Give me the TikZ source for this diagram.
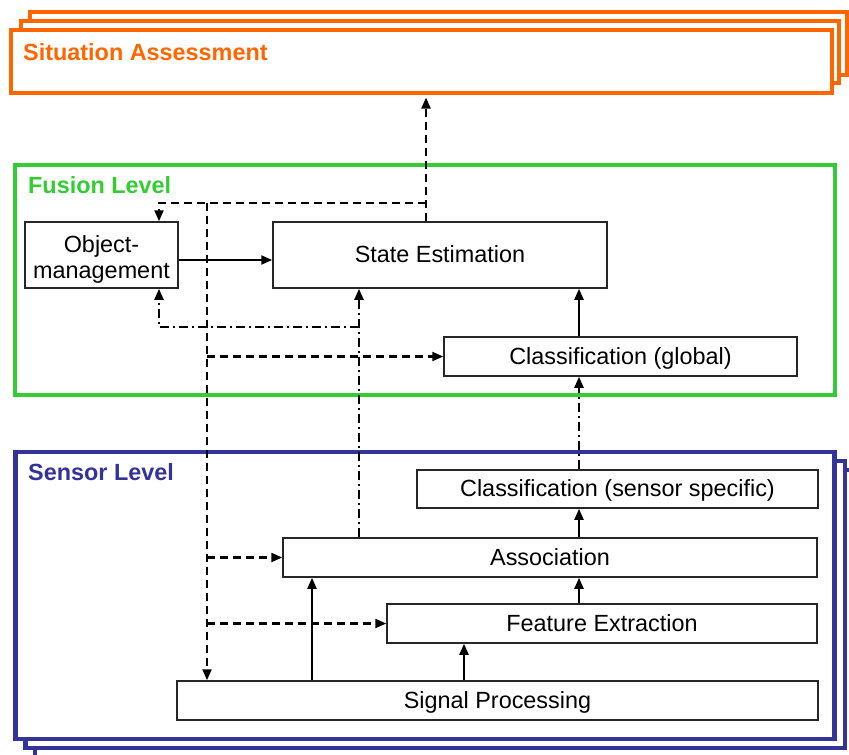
\documentclass[tikz,border=0pt]{standalone}
\usepackage{fontspec}
\setmainfont{Liberation Sans}
\usetikzlibrary{arrows.meta}
\definecolor{saorange}{HTML}{FF6600}
\definecolor{fugreen}{HTML}{33CC33}
\definecolor{seblue}{HTML}{333399}
\begin{document}
\begin{tikzpicture}[x=1pt,y=-1pt,
  every node/.style={font=\fontsize{23.4pt}{27pt}\selectfont, inner sep=0pt},
  box/.style={draw=black!85, line width=1.5pt, fill=white, text height=17pt, text depth=2pt},
  saline/.style={draw=saorange, line width=4.5pt, fill=white},
  fuline/.style={draw=fugreen, line width=4.5pt, fill=white},
  seline/.style={draw=seblue, line width=4.5pt, fill=white},
  title/.style={anchor=base west, font=\fontsize{23.4pt}{27pt}\selectfont\bfseries},
  plain/.style={anchor=base},
  solidarrow/.style={line width=2.1pt, -{Triangle[length=11pt,width=9pt]}},
  dasharrow/.style={solidarrow, dash pattern=on 8pt off 5pt},
  dashdotarrow/.style={solidarrow, dash pattern=on 9pt off 4pt on 2pt off 4pt}]
\path[use as bounding box, clip] (0,0) rectangle (849,755);
\fill[white] (0,0) rectangle (849,755);

% Situation assessment stack
\draw[saline] (30,12) rectangle (847,75);
\draw[saline] (21,21) rectangle (839,83);
\node[saline, minimum width=821pt, minimum height=63pt] (SA) at (421.5,61.5) {};
\node[title, text=saorange] (SAt) at (23,60) {Situation Assessment};

% Fusion level
\node[fuline, minimum width=820pt, minimum height=230pt] (FL) at (425,280) {};
\node[title, text=fugreen] (FLt) at (28,193) {Fusion Level};

% Sensor level stack
\draw[seline] (35,470) rectangle (855,757);
\draw[seline] (25.5,461) rectangle (845,748);
\node[seline, minimum width=819pt, minimum height=287pt] (SL) at (425,595.5) {};
\node[title, text=seblue] (SLt) at (28,480) {Sensor Level};

% boxes
\node[box, minimum width=153pt, minimum height=66pt] (OM) at (101.5,255) {};
\node[plain] (OMa) at (101.5,252) {Object-};
\node[plain] (OMb) at (101.5,278) {management};
\node[box, minimum width=334pt, minimum height=66pt] (SE) at (440,255) {State Estimation};
\node[box, minimum width=353pt, minimum height=39pt] (CG) at (620.5,356.5) {Classification (global)};
\node[box, minimum width=401pt, minimum height=38pt] (CS) at (617.5,489) {Classification (sensor specific)};
\node[box, minimum width=534pt, minimum height=39pt] (AS) at (550,557.5) {Association};
\node[box, minimum width=430pt, minimum height=39pt] (FE) at (602,623.5) {Feature Extraction};
\node[box, minimum width=641pt, minimum height=39pt] (SP) at (497.5,700.5) {Signal Processing};

% helper coordinates
\coordinate (jT) at (426,203);
\coordinate (jL) at (159,203);
\coordinate (jD) at (207,203);
\coordinate (jM) at (359,327);
\coordinate (xR) at (579,0);
\coordinate (xA) at (312,0);
\coordinate (xF) at (464,0);

% connectors
\draw[solidarrow] ([yshift=-5pt]OM.east) -- ([yshift=-5pt]SE.west);
\draw[dasharrow] (SE.north -| jT) -- ([yshift=-2.3pt]SA.south -| jT);
\draw[dasharrow] (jT) -- (jL) -- (OM.north -| jL);
\draw[dasharrow] (jD) -- (SP.north -| jD);
\draw[dasharrow] (CG.west -| jD) -- (CG.west);
\draw[dasharrow] (AS.west -| jD) -- (AS.west);
\draw[dasharrow] (FE.west -| jD) -- (FE.west);
\draw[dashdotarrow] (AS.north -| jM) -- (SE.south -| jM);
\draw[dashdotarrow] (jM) -- (jL |- jM) -- (OM.south -| jL);
\draw[dashdotarrow] (CS.north -| xR) -- (CG.south -| xR);
\draw[solidarrow] (CG.north -| xR) -- (SE.south -| xR);
\draw[solidarrow] (AS.north -| xR) -- (CS.south -| xR);
\draw[solidarrow] (FE.north -| xR) -- (AS.south -| xR);
\draw[solidarrow] (SP.north -| xA) -- (AS.south -| xA);
\draw[solidarrow] (SP.north -| xF) -- (FE.south -| xF);
\end{tikzpicture}
\end{document}
